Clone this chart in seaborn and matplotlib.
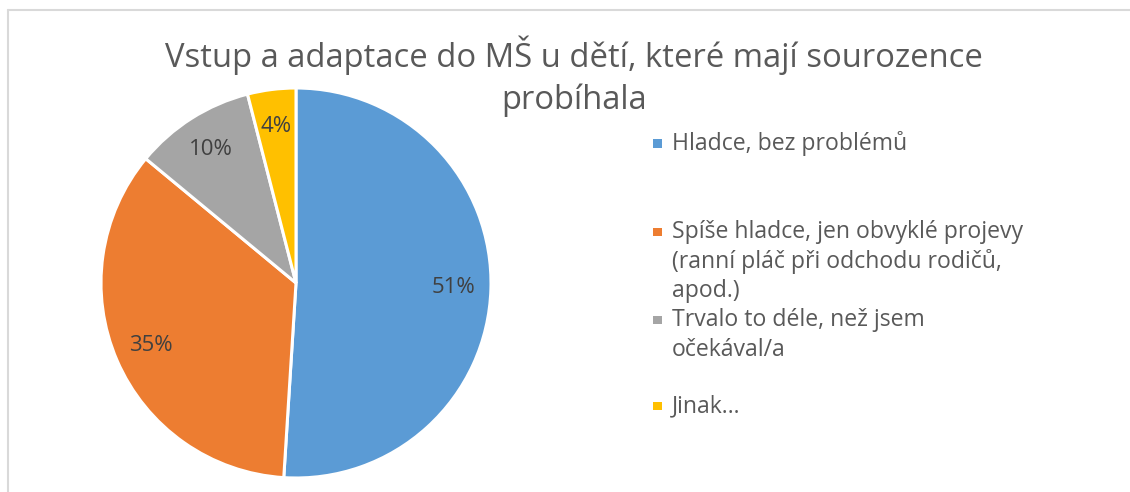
import matplotlib
matplotlib.use("Agg")
import matplotlib.pyplot as plt
import seaborn as sns
from matplotlib.patches import Rectangle
from matplotlib.lines import Line2D

categories = [
    "Hladce, bez problémů",
    "Spíše hladce, jen obvyklé projevy\n(ranní pláč při odchodu rodičů,\napod.)",
    "Trvalo to déle, než jsem\nočekával/a",
    "Jinak…",
]
values = [51, 35, 10, 4]
colors = ["#5B9BD5", "#ED7D31", "#A5A5A5", "#FFC000"]
title_lines = ["Vstup a adaptace do MŠ u dětí, které mají sourozence", "probíhala"]

sns.set_theme(style="white")
plt.rcParams["font.family"] = ["Open Sans", "DejaVu Sans"]

W, H = 1130, 492
fig = plt.figure(figsize=(W / 100, H / 100), dpi=100)
fig.patch.set_facecolor("white")

# pie axes: center (296, 283) px from top, radius 195 px
cx, cy, r = 296, 283, 195
ax = fig.add_axes([(cx - r) / W, (H - cy - r) / H, 2 * r / W, 2 * r / H])
wedges, texts, autotexts = ax.pie(
    values, colors=colors, startangle=90, counterclock=False,
    autopct="%.0f%%", pctdistance=0.81,
    wedgeprops=dict(edgecolor="white", linewidth=2.2),
    textprops=dict(color="#404040", fontsize=16),
)
ax.set_xlim(-1, 1)
ax.set_ylim(-1, 1)
ax.set_aspect("equal")
ax.axis("off")

# title
for i, line in enumerate(title_lines):
    fig.text(574 / W, 1 - (55 + 45 * i) / H, line, ha="center", va="center",
             fontsize=23.6, color="#595959", fontweight="normal")

# legend
item_y = [144, 232, 320, 406]
line_h = 29.5
for lab, col, y in zip(categories, colors, item_y):
    fig.add_artist(Rectangle(((653) / W, 1 - (y + 4) / H), 8.5 / W, 8.5 / H,
                             transform=fig.transFigure, facecolor=col, edgecolor="none"))
    for j, ln in enumerate(lab.split("\n")):
        fig.text(672 / W, 1 - (y + j * line_h) / H, ln, ha="left", va="center",
                 fontsize=16.6, color="#595959")

# chart border (partially visible)
fig.add_artist(Line2D([8 / W, 1], [1 - 10 / H, 1 - 10 / H], transform=fig.transFigure,
                      color="#D9D9D9", linewidth=1.5))
fig.add_artist(Line2D([8 / W, 8 / W], [0, 1 - 10 / H], transform=fig.transFigure,
                      color="#D9D9D9", linewidth=1.5))

fig.savefig("out.png", dpi=100)
